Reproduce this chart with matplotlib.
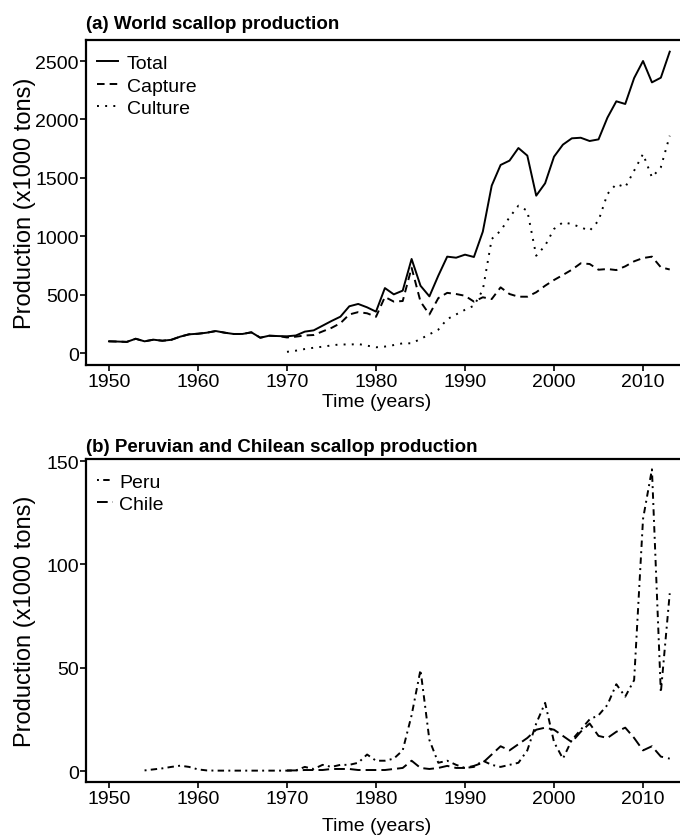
import matplotlib
matplotlib.use("Agg")
import matplotlib.pyplot as plt

plt.rcParams["font.family"] = ["Liberation Sans", "DejaVu Sans"]

# World scallop production (x1000 tons)
years_world = list(range(1950, 2014))
total = [100, 98, 95, 122, 100, 114, 105, 113, 140, 160,
         165, 174, 188, 174, 163, 163, 177, 131, 148, 145,
         143, 150, 183, 194, 234, 274, 311, 400, 420, 391,
         354, 556, 502, 534, 805, 576, 485, 662, 825, 816,
         842, 822, 1039, 1433, 1610, 1647, 1755, 1690, 1347, 1453,
         1681, 1784, 1838, 1843, 1815, 1829, 2015, 2155, 2132, 2354,
         2500, 2317, 2357, 2580]
capture = [100, 98, 95, 122, 100, 114, 105, 113, 140, 160,
           165, 174, 188, 174, 163, 163, 177, 131, 148, 145,
           133, 140, 150, 154, 185, 215, 255, 330, 350, 340,
           310, 480, 440, 445, 730, 440, 330, 470, 515, 505,
           490, 440, 477, 462, 562, 505, 482, 482, 520, 576,
           625, 668, 713, 768, 762, 713, 719, 710, 742, 785,
           813, 825, 734, 715]
years_culture = list(range(1970, 2014))
culture = [10, 20, 34, 45, 54, 65, 74, 72, 77, 63,
           49, 55, 68, 83, 83, 120, 160, 200, 290, 330,
           370, 405, 540, 976, 1047, 1162, 1261, 1218, 833, 919,
           1062, 1119, 1104, 1076, 1047, 1133, 1361, 1447, 1419, 1561,
           1704, 1504, 1590, 1860]

# Peru and Chile (x1000 tons)
years_peru = list(range(1954, 2014))
peru = [0.3, 0.8, 1.3, 2.0, 2.6, 2.0,
        0.8, 0.3, 0.2, 0.2, 0.2, 0.2, 0.2, 0.2, 0.2, 0.2,
        0.2, 0.3, 2, 1, 3, 2, 3, 3, 4, 8,
        5, 5, 6, 10, 27, 49, 15, 4, 5, 3,
        1.5, 2, 5, 3, 2, 3, 4, 10, 23, 33,
        14, 6, 15, 20, 25, 27, 32, 42, 36, 44,
        122, 146, 38, 86]
years_chile = list(range(1970, 2014))
chile = [0.3, 0.3, 0.5, 0.5, 0.5, 1, 1, 1, 0.5, 0.5,
         0.5, 0.5, 1, 1.5, 5, 1.5, 1, 1.5, 2.5, 1.5,
         1.5, 2.5, 4, 8, 12, 10, 13, 16, 20, 21,
         20, 17, 14, 19, 23, 17, 16, 19, 21, 16,
         10, 12, 7, 6]

xticks = [1950, 1960, 1970, 1980, 1990, 2000, 2010]

W, H = 680, 837
fig = plt.figure(figsize=(W / 100, H / 100), dpi=100)

LW = 1.4
FS = 14


def px_axes(left, top, right, bottom):
    return fig.add_axes([left / W, 1 - bottom / H, (right - left) / W, (bottom - top) / H])


def style(ax, ylim, yticks, title, xlab_y, title_y):
    ax.set_xlim(1947.42, 2016.4)
    ax.set_ylim(*ylim)
    ax.set_xticks(xticks)
    ax.set_yticks(yticks)
    ax.spines["right"].set_visible(False)
    for s in ["left", "bottom", "top"]:
        ax.spines[s].set_linewidth(1.6)
    ax.tick_params(direction="out", length=4.6, width=1.2, labelsize=FS, pad=1.2)
    ax.tick_params(axis="y", pad=0.5)
    ax.set_xlabel("Time (years)", fontsize=FS)
    ax.xaxis.set_label_coords(0.474, xlab_y)
    ax.xaxis.label.set_va("center")
    ax.set_ylabel("Production (x1000 tons)", fontsize=17)
    ax.yaxis.set_label_coords(-0.1, 0.5)
    ax.yaxis.label.set_va("center")
    ax.text(0.0, title_y, title, transform=ax.transAxes, fontsize=13.5, fontweight="bold",
            ha="left", va="bottom")


# (a) world production
ax1 = px_axes(86, 41, 700, 366)
ax1.plot(years_world, total, color="black", lw=LW, label="Total")
ax1.plot(years_world, capture, color="black", lw=LW, dashes=(3.9, 2.6), label="Capture")
ax1.plot(years_culture, culture, color="black", lw=LW, dashes=(1.0, 3.2), label="Culture")
style(ax1, (-102.7, 2679.8), [0, 500, 1000, 1500, 2000, 2500],
      "(a) World scallop production", -0.112, 1.024)
ax1.legend(loc="upper left", bbox_to_anchor=(-0.0065, 1.0), frameon=False, fontsize=FS,
           handlelength=1.1, handletextpad=0.45, labelspacing=0.25,
           borderaxespad=0.35, borderpad=0.4)

# (b) Peru and Chile
ax2 = px_axes(86, 460, 700, 783)
ax2.plot(years_peru, peru, color="black", lw=LW, dashes=(1.0, 2.2, 3.3, 2.2), label="Peru")
ax2.plot(years_chile, chile, color="black", lw=LW, dashes=(5.5, 2.6), label="Chile")
style(ax2, (-5.3, 151.0), [0, 50, 100, 150],
      "(b) Peruvian and Chilean scallop production", -0.136, 1.012)
ax2.legend(loc="upper left", bbox_to_anchor=(-0.0065, 1.0), frameon=False, fontsize=FS,
           handlelength=0.85, handletextpad=0.3, labelspacing=0.2,
           borderaxespad=0.35, borderpad=0.4)

fig.savefig("out.png", dpi=100)
